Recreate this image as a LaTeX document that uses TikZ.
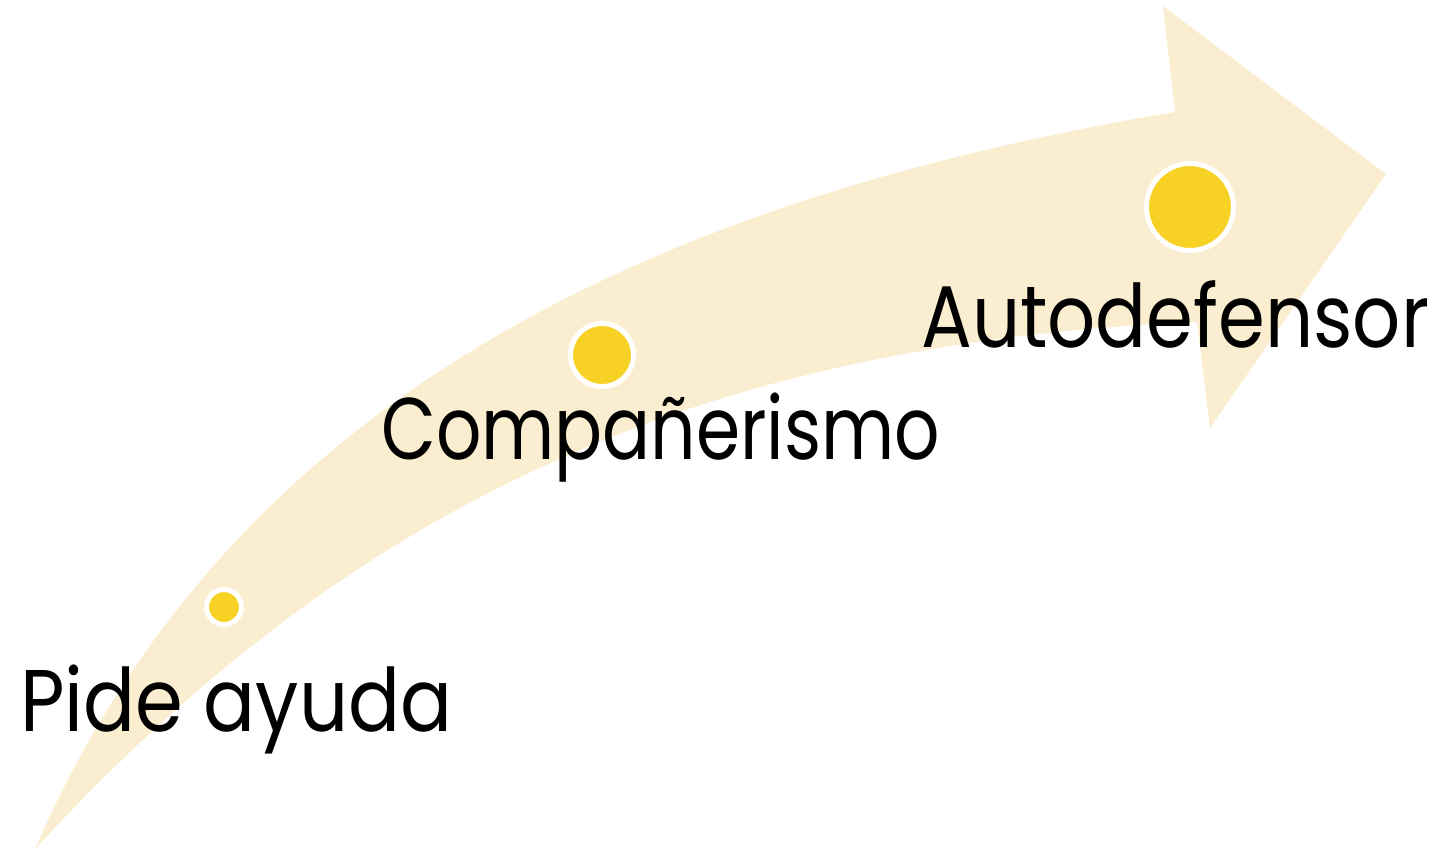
\documentclass[tikz,border=0pt]{standalone}
\usepackage{fontspec}
\setmainfont{Poppins}
\usepackage{graphicx}
\definecolor{cream}{HTML}{FBEDCF}
\definecolor{dotyellow}{HTML}{F7D124}
\begin{document}
\begin{tikzpicture}[x=1pt,y=-1pt,
  band/.style={fill=cream, draw=none},
  dot/.style={circle, fill=dotyellow, draw=white, line width=5pt, inner sep=0pt},
  lbl/.style={anchor=base west, inner sep=0pt, font=\fontsize{87.5}{100}\selectfont}]
\useasboundingbox (0,0) rectangle (1438,849);
\fill[band] (35,849) .. controls (230,400) and (650,200) .. (1175,112)
  -- (1163,6) -- (1386,174) -- (1210,428) -- (1197,322)
  .. controls (650,345) and (320,540) .. (35,849) -- cycle;
\node[dot, minimum size=35pt] (d1) at (224,607) {};
\node[dot, minimum size=63pt] (d2) at (602,355) {};
\node[dot, minimum size=87pt] (d3) at (1190,207) {};
\node[lbl] (t1) at (20,731) {\resizebox{432pt}{\height}{Pide ayuda}};
\node[lbl] (t2) at (381,459) {\resizebox{559pt}{\height}{Compañerismo}};
\node[lbl] (t3) at (921,347) {\resizebox{508pt}{\height}{Autodefensor}};
\end{tikzpicture}
\end{document}
